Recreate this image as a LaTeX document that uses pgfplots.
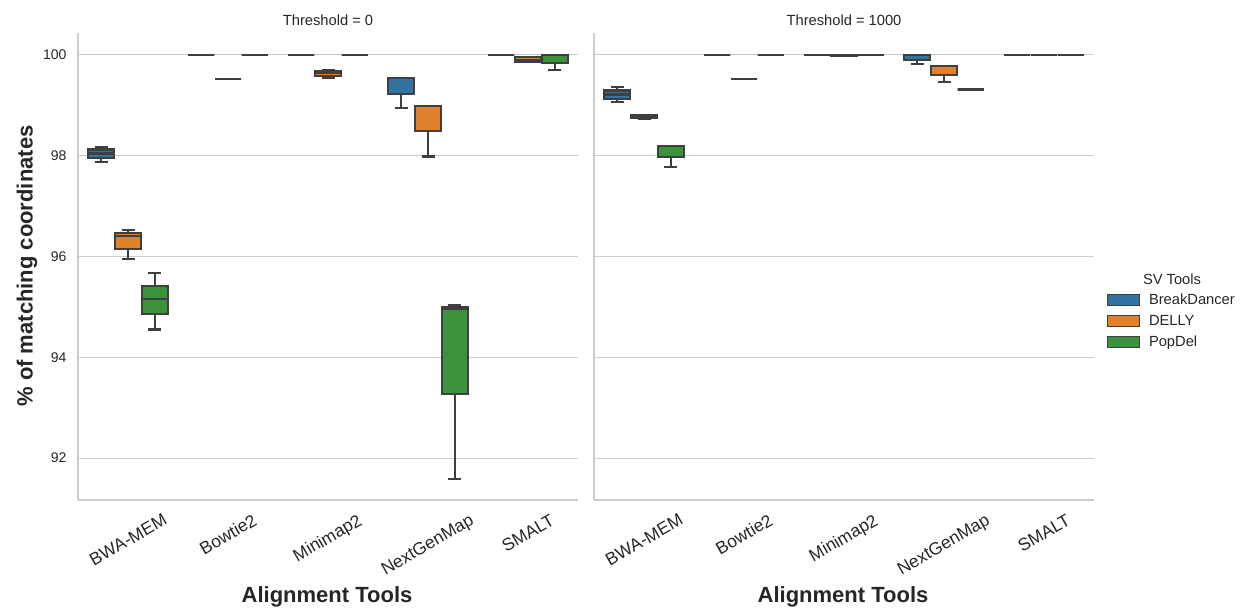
\documentclass[border=0pt]{standalone}
\usepackage{fontspec}
\setmainfont{Liberation Sans}
\usepackage{pgfplots}
\pgfplotsset{compat=1.18}
\definecolor{cBD}{HTML}{3274A1}
\definecolor{cDE}{HTML}{E1812C}
\definecolor{cPO}{HTML}{3A923A}
\definecolor{lc}{HTML}{3F3F3F}
\definecolor{gc}{HTML}{CCCCCC}
\definecolor{tc}{HTML}{262626}
% box: position, lower whisker, lower quartile, median, upper quartile, upper whisker, colour
\newcommand{\bx}[7]{%
 \pgfmathsetmacro\xa{#1-0.13}\pgfmathsetmacro\xb{#1+0.13}%
 \pgfmathsetmacro\ca{#1-0.065}\pgfmathsetmacro\cb{#1+0.065}%
 \addplot[forget plot, draw=lc, line width=2.1pt] coordinates {(#1,#2) (#1,#3)};
 \addplot[forget plot, draw=lc, line width=2.1pt] coordinates {(#1,#5) (#1,#6)};
 \addplot[forget plot, draw=lc, line width=2.1pt] coordinates {(\ca,#2) (\cb,#2)};
 \addplot[forget plot, draw=lc, line width=2.1pt] coordinates {(\ca,#6) (\cb,#6)};
 \addplot[forget plot, fill=#7, draw=lc, line width=2.1pt] coordinates {(\xa,#3) (\xb,#3) (\xb,#5) (\xa,#5)} --cycle;
 \addplot[forget plot, draw=lc, line width=2.1pt] coordinates {(\xa,#4) (\xb,#4)};
}
\pgfplotsset{boxlegend/.style={legend image code/.code={\draw[##1] (0pt,-5.5pt) rectangle (32pt,5.5pt);}}}
\pgfplotsset{panel/.style={
  scale only axis, width=500pt, height=467pt, clip=false,
  xmin=-0.5, xmax=4.5, ymin=91.17, ymax=100.43,
  axis x line*=bottom, axis y line*=left,
  axis line style={gc, line width=1.2pt, -},
  ymajorgrids, grid style={gc, line width=1pt},
  ytick={92,94,96,98,100},
  xtick={0,1,2,3,4},
  xticklabels={\rotatebox{30}{BWA-MEM},\rotatebox{30}{Bowtie2},\rotatebox{30}{Minimap2},\rotatebox{30}{NextGenMap},\rotatebox{30}{SMALT}},
  major tick length=0pt,
  /pgf/number format/assume math mode=true,
  xticklabel style={font=\fontsize{17.5}{20}\selectfont, text=tc, anchor=north, inner sep=0pt, yshift=-13pt},
  yticklabel style={font=\fontsize{14}{16}\selectfont, text=tc, xshift=-8pt},
  title style={font=\fontsize{14.7}{17}\selectfont, text=tc, at={(axis description cs:0.5,1.015)}, anchor=center},
  xlabel={Alignment Tools},
  xlabel style={font=\fontsize{22}{26}\selectfont\bfseries, text=tc, at={(axis description cs:0.498,-0.207)}, anchor=center},
}}
\begin{document}
\begin{tikzpicture}
\useasboundingbox (0,0) rectangle (1242pt,609pt);
\begin{axis}[panel, at={(78pt,109pt)}, anchor=south west, title={Threshold = 0},
  ylabel={\% of matching coordinates},
  ylabel style={font=\fontsize{22}{26}\selectfont\bfseries, text=tc, at={(axis description cs:-0.102,0.501)}, anchor=center}]
% BWA-MEM
\bx{-0.267}{97.88}{97.95}{98.04}{98.12}{98.17}{cBD}
\bx{0}{95.94}{96.15}{96.40}{96.46}{96.52}{cDE}
\bx{0.267}{94.55}{94.85}{95.16}{95.42}{95.67}{cPO}
% Bowtie2
\bx{0.733}{100}{100}{100}{100}{100}{cBD}
\bx{1}{99.52}{99.52}{99.52}{99.52}{99.52}{cDE}
\bx{1.267}{100}{100}{100}{100}{100}{cPO}
% Minimap2
\bx{1.733}{100}{100}{100}{100}{100}{cBD}
\bx{2}{99.54}{99.58}{99.63}{99.68}{99.69}{cDE}
\bx{2.267}{100}{100}{100}{100}{100}{cPO}
% NextGenMap
\bx{2.733}{98.95}{99.22}{99.53}{99.53}{99.53}{cBD}
\bx{3}{97.98}{98.48}{98.98}{98.98}{98.98}{cDE}
\bx{3.267}{91.58}{93.27}{94.95}{95.00}{95.04}{cPO}
% SMALT
\bx{3.733}{100}{100}{100}{100}{100}{cBD}
\bx{4}{99.86}{99.86}{99.90}{99.95}{99.95}{cDE}
\bx{4.267}{99.70}{99.84}{100}{100}{100}{cPO}
\end{axis}
\begin{axis}[panel, at={(594pt,109pt)}, anchor=south west, title={Threshold = 1000},
  yticklabels={},
  legend style={at={(axis description cs:1.026,0.383)}, anchor=west, draw=none, fill=none, inner sep=0pt, font=\fontsize{14.7}{17}\selectfont, text=tc, row sep=5pt, nodes={inner xsep=9pt}},
  legend cell align=left]
% BWA-MEM
\bx{-0.267}{99.07}{99.12}{99.21}{99.29}{99.36}{cBD}
\bx{0}{98.72}{98.74}{98.78}{98.81}{98.81}{cDE}
\bx{0.267}{97.77}{97.97}{97.97}{98.19}{98.19}{cPO}
% Bowtie2
\bx{0.733}{100}{100}{100}{100}{100}{cBD}
\bx{1}{99.52}{99.52}{99.52}{99.52}{99.52}{cDE}
\bx{1.267}{100}{100}{100}{100}{100}{cPO}
% Minimap2
\bx{1.733}{100}{100}{100}{100}{100}{cBD}
\bx{2}{99.97}{99.97}{99.98}{100}{100}{cDE}
\bx{2.267}{100}{100}{100}{100}{100}{cPO}
% NextGenMap
\bx{2.733}{99.81}{99.90}{100}{100}{100}{cBD}
\bx{3}{99.46}{99.60}{99.77}{99.77}{99.77}{cDE}
\bx{3.267}{99.31}{99.31}{99.31}{99.31}{99.31}{cPO}
% SMALT
\bx{3.733}{100}{100}{100}{100}{100}{cBD}
\bx{4}{100}{100}{100}{100}{100}{cDE}
\bx{4.267}{100}{100}{100}{100}{100}{cPO}
\addlegendimage{boxlegend, fill=cBD, draw=lc, line width=0.8pt}
\addlegendimage{boxlegend, fill=cDE, draw=lc, line width=0.8pt}
\addlegendimage{boxlegend, fill=cPO, draw=lc, line width=0.8pt}
\legend{BreakDancer,DELLY,PopDel}
\node[font=\fontsize{14.7}{17}\selectfont, text=tc, anchor=center] at (axis description cs:1.156,0.473) {SV Tools};
\end{axis}
\end{tikzpicture}
\end{document}
